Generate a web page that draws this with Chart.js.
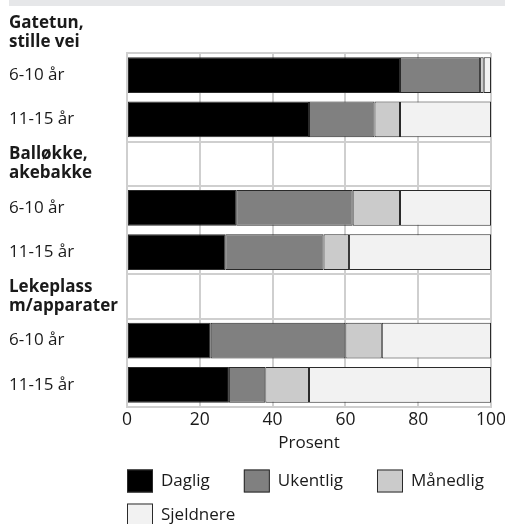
<!DOCTYPE html>
<html>
<head>
<meta charset="utf-8">
<script src="https://cdn.jsdelivr.net/npm/chart.js@4"></script>
<style>
  body { margin: 0; background: #fff; }
  #wrap { position: relative; width: 505px; height: 524px; }
  #strip { position: absolute; left: 9px; top: 0; width: 496px; height: 6px; background: #e6e7e9; }
  canvas { position: absolute; left: 0; top: 0; }
</style>
</head>
<body>
<div id="wrap">
  <div id="strip"></div>
  <canvas id="chart" width="505" height="524"></canvas>
</div>
<script>
// rader: gruppeoverskrift + aldersgrupper
const rows = [
  ["Gatetun,", "stille vei"], "6-10 år", "11-15 år",
  ["Balløkke,", "akebakke"], "6-10 år", "11-15 år",
  ["Lekeplass", "m/apparater"], "6-10 år", "11-15 år"
];
const headerRows = [0, 3, 6];

// prosent per rad (null = overskrift)
const daglig    = [null, 75, 50, null, 30, 27, null, 23, 28];
const ukentlig  = [null, 22, 18, null, 32, 27, null, 37, 10];
const maanedlig = [null,  1,  7, null, 13,  7, null, 10, 12];
const sjeldnere = [null,  2, 25, null, 25, 39, null, 30, 50];

const xTicks = [0, 20, 40, 60, 80, 100];

const FONT = "'Open Sans', sans-serif";
const TXT = "#1a1a1a";
const GRID = "#cfcfcf";
const EDGE = "#2a2a2a";

const isHeader = (v) => headerRows.includes(v);

// første overskrift ligger over plottet
const headerPlugin = {
  id: "firstHeader",
  afterDraw(chart) {
    const y = chart.scales.y;
    const ctx = chart.ctx;
    const cy = y.getPixelForValue(0);
    const lines = rows[0];
    const lh = 17 * 1.1;
    ctx.save();
    ctx.font = "bold 17px " + FONT;
    ctx.fillStyle = TXT;
    ctx.textAlign = "left";
    ctx.textBaseline = "middle";
    lines.forEach((t, i) => ctx.fillText(t, y.left, cy + 2 + (i - (lines.length - 1) / 2) * lh));
    ctx.restore();
  },
};

// forklaring under aksen
const legendPlugin = {
  id: "boxLegend",
  afterDraw(chart) {
    const ctx = chart.ctx;
    const area = chart.chartArea;
    ctx.save();
    ctx.font = "17px " + FONT;
    ctx.textBaseline = "middle";
    ctx.textAlign = "left";
    let x = area.left;
    let y = chart.scales.x.bottom + 26;
    chart.data.datasets.forEach((ds) => {
      const w = 34 + ctx.measureText(ds.label).width;
      if (x + w > chart.width) {
        x = area.left;
        y += 34;
      }
      ctx.fillStyle = ds.backgroundColor;
      ctx.fillRect(x, y - 11.5, 26, 23);
      ctx.strokeStyle = EDGE;
      ctx.lineWidth = 1;
      ctx.strokeRect(x + 0.5, y - 11, 25, 22);
      ctx.fillStyle = TXT;
      ctx.fillText(ds.label, x + 34, y);
      x += w + 34;
    });
    ctx.restore();
  },
};

const mkSet = (label, data, color) => ({
  label: label,
  data: data,
  backgroundColor: color,
  borderColor: EDGE,
  borderWidth: 1,
  borderSkipped: false,
  categoryPercentage: 1,
  barPercentage: 0.81,
});

new Chart(document.getElementById("chart"), {
  type: "bar",
  data: {
    labels: rows,
    datasets: [
      mkSet("Daglig", daglig, "#000000"),
      mkSet("Ukentlig", ukentlig, "#808080"),
      mkSet("Månedlig", maanedlig, "#cbcbcb"),
      mkSet("Sjeldnere", sjeldnere, "#f2f2f2"),
    ],
  },
  options: {
    indexAxis: "y",
    responsive: false,
    animation: false,
    layout: { padding: { left: 9, top: 53, right: 14, bottom: 69 } },
    plugins: {
      legend: { display: false },
      tooltip: { enabled: false },
    },
    scales: {
      x: {
        stacked: true,
        min: xTicks[0],
        max: xTicks[xTicks.length - 1],
        afterBuildTicks: (s) => { s.ticks = xTicks.map((v) => ({ value: v })); },
        ticks: { color: TXT, font: { family: FONT, size: 17.5 }, padding: 3 },
        grid: { color: GRID, lineWidth: 2, drawTicks: false },
        border: { color: GRID, width: 2 },
        title: {
          display: true,
          text: "Prosent",
          color: TXT,
          font: { family: FONT, size: 17 },
          padding: { top: 0, bottom: 2 },
        },
        afterFit: (s) => {
          s.height = 48;
          s.paddingRight = 0;
        },
      },
      y: {
        stacked: true,
        min: 1,
        ticks: {
          autoSkip: false,
          crossAlign: "far",
          color: TXT,
          padding: 0,
          font: (c) => ({
            family: FONT,
            size: 17,
            lineHeight: 1.1,
            weight: c.tick && isHeader(c.tick.value) ? "bold" : "normal",
          }),
        },
        grid: {
          offset: true,
          drawTicks: false,
          lineWidth: 2,
          color: (c) => {
            if (!c.tick || c.index === 0) return GRID;
            const v = c.tick.value;
            return isHeader(v) || isHeader(v - 1) ? GRID : "rgba(0,0,0,0)";
          },
        },
        border: { color: GRID, width: 2 },
        afterFit: (s) => { s.width = 118; },
      },
    },
  },
  plugins: [headerPlugin, legendPlugin],
});
</script>
</body>
</html>
